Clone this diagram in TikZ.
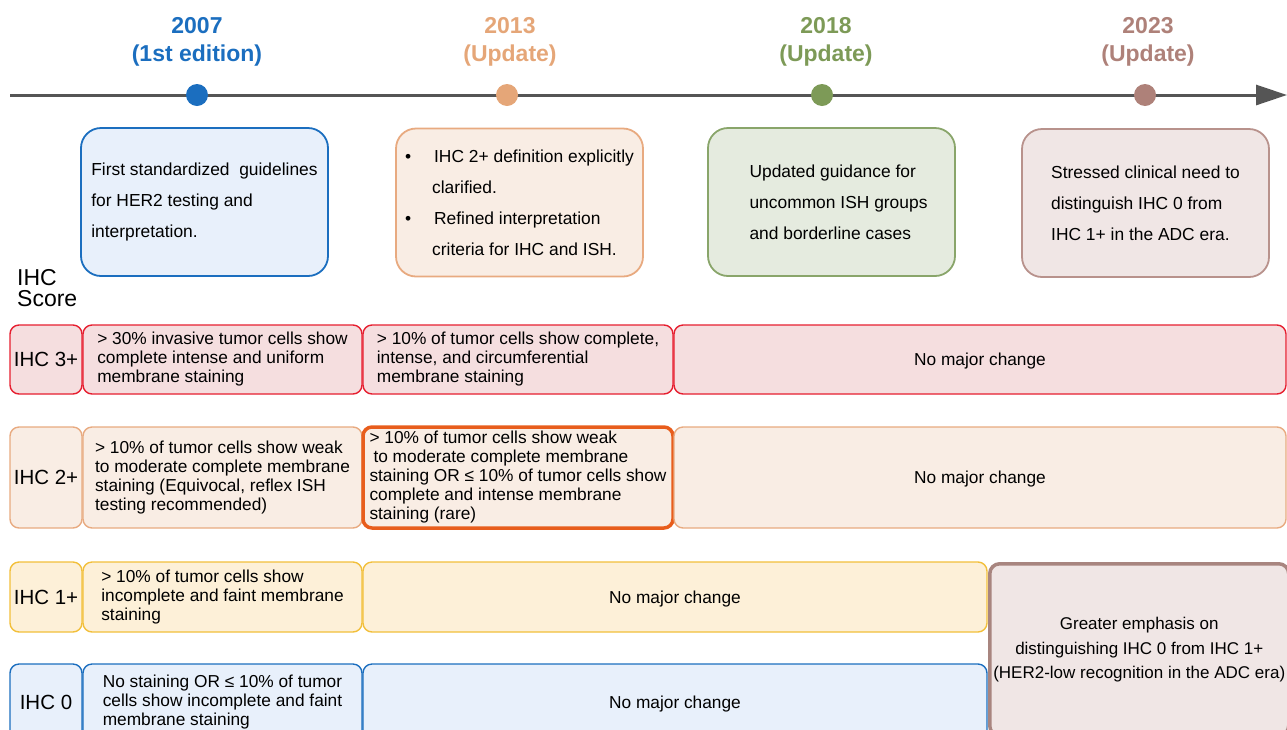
\documentclass[tikz,border=0pt]{standalone}
\usepackage{fontspec}
\setmainfont{Liberation Sans}
\usetikzlibrary{arrows.meta,positioning}

\definecolor{axisgray}{HTML}{555555}
\definecolor{c2007}{HTML}{1B6EBF}
\definecolor{c2013}{HTML}{E5A678}
\definecolor{c2018}{HTML}{7D9A57}
\definecolor{c2023}{HTML}{AE8179}
\definecolor{bluefill}{HTML}{E8F0FB}
\definecolor{peachfill}{HTML}{F9EDE4}
\definecolor{peachline}{HTML}{E8AA80}
\definecolor{greenfill}{HTML}{E5EBDF}
\definecolor{greenline}{HTML}{89A56A}
\definecolor{mauvefill}{HTML}{F0E6E5}
\definecolor{mauveline}{HTML}{B8928C}
\definecolor{redfill}{HTML}{F5DEDF}
\definecolor{redline}{HTML}{E61E2F}
\definecolor{hiorange}{HTML}{E85D1C}
\definecolor{goldfill}{HTML}{FDF0D8}
\definecolor{goldline}{HTML}{F2BF3A}
\definecolor{emphline}{HTML}{A8857F}

\begin{document}
\begin{tikzpicture}[x=1pt, y=-1pt, node distance=1pt,
  year/.style={font=\fontsize{23pt}{28pt}\selectfont\bfseries, align=center, inner sep=0pt},
  dot/.style={circle, minimum size=22pt, inner sep=0pt},
  guide/.style={draw, line width=1.8pt, rounded corners=20pt, minimum width=247pt,
    minimum height=148pt, align=left, font=\fontsize{17.4pt}{31pt}\selectfont},
  score/.style={draw, line width=1.4pt, rounded corners=9pt, minimum width=72pt,
    inner sep=1pt, outer sep=0pt, text depth=0pt, font=\fontsize{20.5pt}{24pt}\selectfont},
  cell/.style={draw, line width=1.4pt, rounded corners=9pt, align=left, inner sep=2pt,
    outer sep=0pt, font=\fontsize{17.3pt}{19pt}\selectfont},
  row3/.style={fill=redfill, draw=redline, minimum height=69pt},
  row2/.style={fill=peachfill, draw=peachline, minimum height=101pt},
  row1/.style={fill=goldfill, draw=goldline, minimum height=70pt},
  row0/.style={fill=bluefill, draw=c2007, minimum height=76pt}]
\path[use as bounding box] (0,0) rectangle (1287,729);
\clip (0,0) rectangle (1287,729);

% Timeline
\coordinate (tstart) at (10,95);
\coordinate (tend) at (1287,95);
\draw[line width=3pt, axisgray, -{Triangle[length=31pt,width=20pt]}] (tstart) -- (tend);
\node[dot, fill=c2007] (d2007) at (197,95) {};
\node[dot, fill=c2013] (d2013) at (507,95) {};
\node[dot, fill=c2018] (d2018) at (822,95) {};
\node[dot, fill=c2023] (d2023) at (1145,95) {};
\node[year, text=c2007, above=17pt of d2007] (y2007) {2007\\(1st edition)};
\node[year, text=c2013, above=17pt of d2013, xshift=3pt] (y2013) {2013\\(Update)};
\node[year, text=c2018, above=17pt of d2018, xshift=4pt] (y2018) {2018\\(Update)};
\node[year, text=c2023, above=17pt of d2023, xshift=3pt] (y2023) {2023\\(Update)};

% Guideline boxes
\node[guide, fill=bluefill, draw=c2007] (g2007) at (204.5,202)
  {First standardized\ \ guidelines\\for HER2 testing and\\interpretation.};
\node[guide, fill=peachfill, draw=peachline] (g2013) at (519.5,202.5)
  {\makebox[29pt][l]{\textbullet}IHC 2+ definition explicitly\\
   \hspace*{27pt}clarified.\\
   \makebox[29pt][l]{\textbullet}Refined interpretation\\
   \hspace*{27pt}criteria for IHC and ISH.};
\node[guide, fill=greenfill, draw=greenline] (g2018) at (831.5,202)
  {\hspace*{14pt}Updated guidance for\\\hspace*{14pt}uncommon ISH groups\\\hspace*{14pt}and borderline cases};
\node[guide, fill=mauvefill, draw=mauveline] (g2023) at (1145.5,203)
  {Stressed clinical need to\\distinguish IHC 0 from\\IHC 1+ in the ADC era.};

\node[align=left, inner sep=0pt, anchor=west, font=\fontsize{23pt}{21pt}\selectfont]
  (scorehead) at (17,288) {IHC\\Score};

% IHC 3+
\node[score, row3] (s3) at (46,359.5) {IHC 3+};
\node[cell, row3, minimum width=279pt, right=of s3] (c3a)
  {> 30\% invasive tumor cells show\\complete intense and uniform\\membrane staining};
\node[cell, row3, minimum width=310pt, right=of c3a] (c3b)
  {> 10\% of tumor cells show complete,\\intense, and circumferential\\membrane staining};
\node[cell, row3, minimum width=612pt, align=center, text depth=0pt, right=of c3b] (c3c) {No major change};

% IHC 2+
\node[score, row2] (s2) at (46,477.5) {IHC 2+};
\node[cell, row2, minimum width=279pt, right=of s2] (c2a)
  {> 10\% of tumor cells show weak\\to moderate complete membrane\\staining (Equivocal, reflex ISH\\testing recommended)};
\node[cell, row2, draw=hiorange, line width=3.5pt, minimum width=310pt, right=of c2a] (c2b)
  {> 10\% of tumor cells show weak\\\hspace*{4pt}to moderate complete membrane\\staining OR ≤ 10\% of tumor cells show\\complete and intense membrane\\staining (rare)};
\node[cell, row2, minimum width=612pt, align=center, text depth=0pt, right=of c2b] (c2c) {No major change};

% IHC 1+
\node[score, row1] (s1) at (46,597) {IHC 1+};
\node[cell, row1, minimum width=279pt, right=of s1] (c1a)
  {> 10\% of tumor cells show\\incomplete and faint membrane\\staining};
\node[cell, row1, minimum width=624pt, align=center, text depth=0pt, right=of c1a] (c1b) {No major change};

% IHC 0
\node[score, row0] (s0) at (46,702) {IHC 0};
\node[cell, row0, minimum width=279pt, right=of s0] (c0a)
  {No staining OR ≤ 10\% of tumor\\cells show incomplete and faint\\membrane staining};
\node[cell, row0, minimum width=624pt, align=center, text depth=0pt, right=of c0a] (c0b) {No major change};

\node[draw=emphline, fill=mauvefill, line width=3.5pt, rounded corners=10pt, anchor=north west,
  minimum width=299pt, minimum height=172pt, inner sep=0pt, align=center,
  font=\fontsize{17pt}{24.5pt}\selectfont] (emph) at (988,562)
  {Greater emphasis on\\distinguishing IHC 0 from IHC 1+\\(HER2-low recognition in the ADC era)};
\end{tikzpicture}
\end{document}
